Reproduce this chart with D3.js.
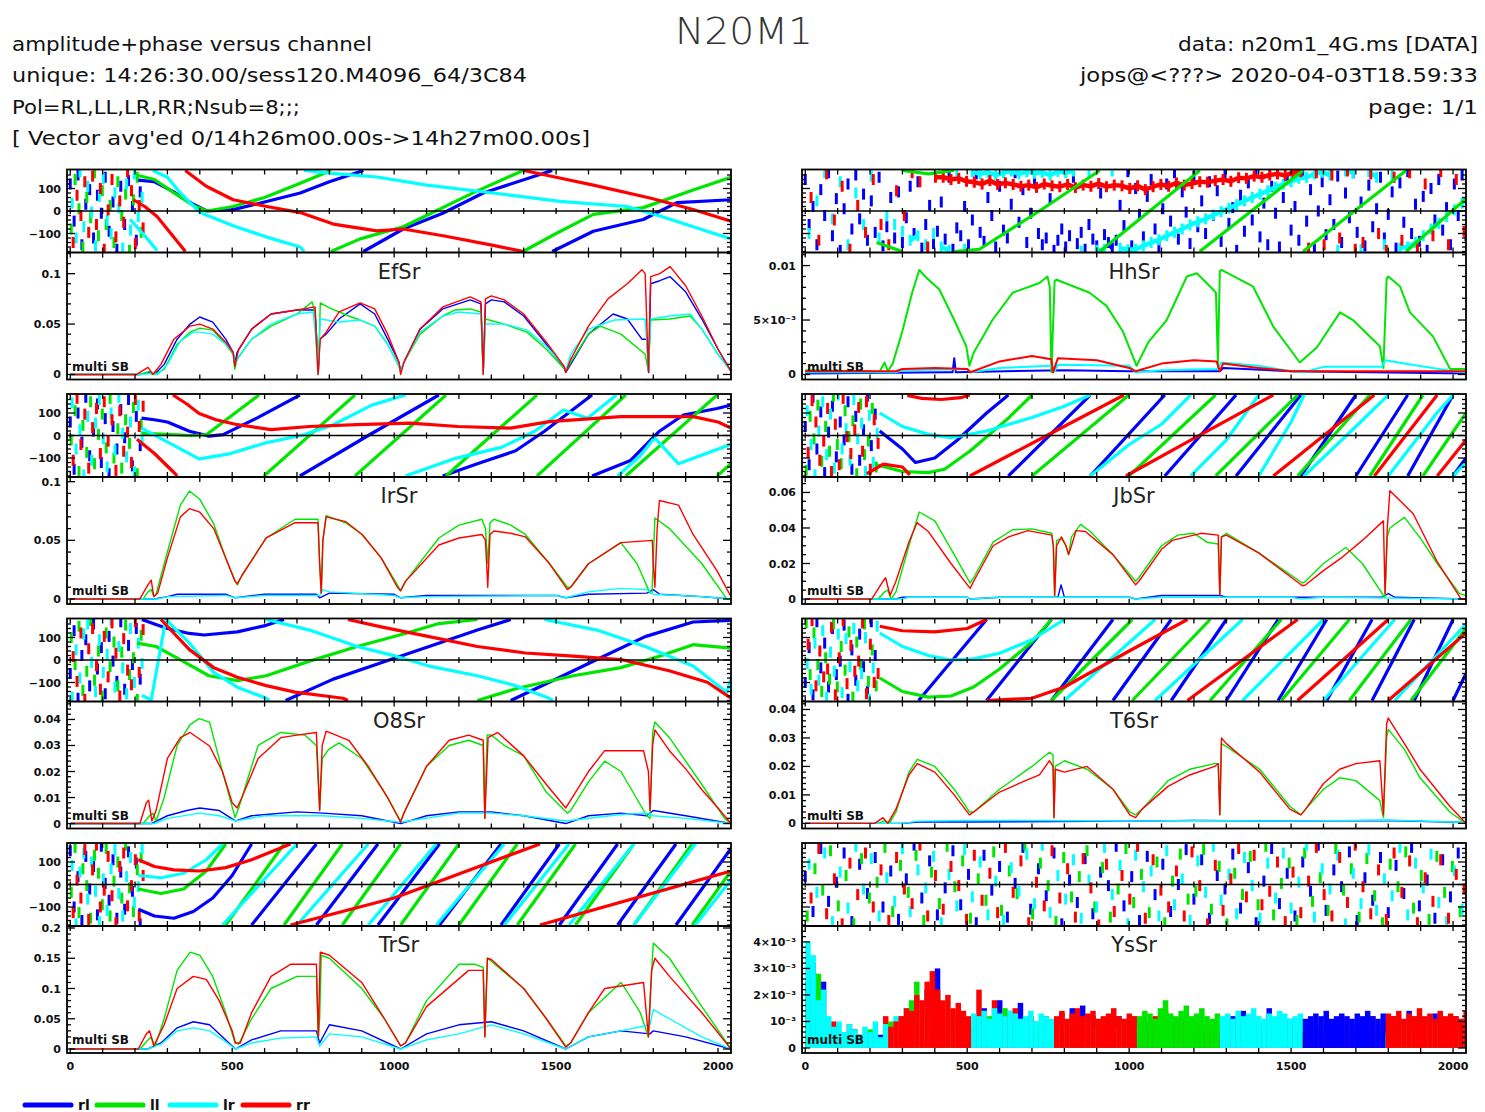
<!DOCTYPE html>
<html>
<head>
<meta charset="utf-8">
<title>N20M1</title>
<script src="https://cdn.jsdelivr.net/npm/d3@7"></script>
<style>
  body { margin: 0; background: #fff; }
  svg text { font-family: "DejaVu Sans", sans-serif; }
</style>
</head>
<body>
<script>
// ---------------- data ----------------
const polNames = ["rl", "ll", "lr", "rr"];
const polColors = ["#0000ff", "#00e600", "#00ffff", "#ff0000"];
const baselines = ["EfSr", "HhSr", "IrSr", "JbSr", "O8Sr", "T6Sr", "TrSr", "YsSr"];
const xTickLabels = [0, 500, 1000, 1500, 2000];
const chanDomain = [-10, 2040];

// amplitude axis ranges and labelled ticks per baseline
const ampDomains = [[-0.005, 0.121], [-0.00046, 0.0112], [-0.0043, 0.104], [-0.0028, 0.0687],
                    [-0.0019, 0.0469], [-0.0018, 0.0428], [-0.0066, 0.2033], [-0.00019, 0.0046]];
const ampMajors = [[0, 0.05, 0.1], [0, 0.005, 0.01], [0, 0.05, 0.1], [0, 0.02, 0.04, 0.06],
                   [0, 0.01, 0.02, 0.03, 0.04], [0, 0.01, 0.02, 0.03, 0.04],
                   [0, 0.05, 0.1, 0.15, 0.2], [0, 0.001, 0.002, 0.003, 0.004]];
const ampLabels = [["0", "0.05", "0.1"], ["0", "5×10⁻³", "0.01"], ["0", "0.05", "0.1"],
                   ["0", "0.02", "0.04", "0.06"], ["0", "0.01", "0.02", "0.03", "0.04"],
                   ["0", "0.01", "0.02", "0.03", "0.04"], ["0", "0.05", "0.1", "0.15", "0.2"],
                   ["0", "10⁻³", "2×10⁻³", "3×10⁻³", "4×10⁻³"]];
const ampMinor = [0.01, 0.001, 0.01, 0.005, 0.002, 0.002, 0.01, 0.0002];

// amplitude curves [channel, amp], order rl, ll, lr, rr
const ampEfSr = [
  [[0,0],[215,0],[240,0.002],[260,0],[290,0.01],[330,0.035],[370,0.05],[400,0.057],[440,0.052],[480,0.035],[503,0.022],[508,0.01],[515,0.022],[560,0.045],[620,0.06],[700,0.064],[756,0.064],[762,0.03],[766,0.002],[770,0.035],[790,0.04],[830,0.055],[895,0.07],[940,0.06],[980,0.035],[1015,0.012],[1020,0.003],[1030,0.012],[1080,0.045],[1150,0.065],[1235,0.074],[1268,0.07],[1275,0.002],[1282,0.07],[1300,0.074],[1340,0.072],[1400,0.058],[1470,0.03],[1525,0.006],[1530,0.002],[1545,0.01],[1600,0.04],[1676,0.06],[1720,0.055],[1765,0.035],[1780,0.035],[1786,0.002],[1792,0.09],[1820,0.093],[1852,0.097],[1900,0.082],[1950,0.055],[2000,0.025],[2040,0.003]],
  [[0,0],[215,0],[245,0.003],[260,0],[290,0.005],[330,0.03],[370,0.042],[400,0.046],[440,0.044],[480,0.03],[503,0.02],[508,0.005],[515,0.015],[560,0.035],[620,0.048],[700,0.06],[747,0.072],[756,0.06],[762,0.03],[766,0],[772,0.071],[800,0.066],[860,0.058],[895,0.054],[940,0.048],[980,0.03],[1015,0.008],[1020,0.003],[1030,0.012],[1080,0.04],[1150,0.058],[1188,0.064],[1235,0.065],[1268,0.062],[1275,0.003],[1282,0.055],[1340,0.05],[1410,0.042],[1470,0.025],[1525,0.006],[1530,0.003],[1545,0.012],[1600,0.04],[1636,0.048],[1700,0.04],[1775,0.02],[1785,0.003],[1792,0.054],[1850,0.055],[1914,0.058],[1950,0.045],[2000,0.02],[2040,0.003]],
  [[0,0],[215,0],[250,0.001],[270,0],[300,0.01],[340,0.033],[380,0.042],[400,0.042],[440,0.04],[480,0.03],[503,0.022],[510,0.01],[520,0.018],[560,0.035],[620,0.05],[700,0.06],[750,0.062],[760,0.03],[765,0],[772,0.055],[830,0.052],[895,0.054],[940,0.048],[980,0.03],[1015,0.008],[1020,0.003],[1030,0.012],[1080,0.042],[1150,0.058],[1200,0.062],[1268,0.06],[1275,0],[1282,0.05],[1340,0.05],[1410,0.044],[1470,0.028],[1525,0.008],[1530,0.004],[1545,0.02],[1600,0.045],[1680,0.054],[1775,0.055],[1785,0.005],[1792,0.055],[1850,0.058],[1914,0.06],[1950,0.045],[2000,0.02],[2040,0.003]],
  [[0,0],[205,0],[240,0.007],[255,0],[280,0.01],[320,0.035],[370,0.048],[400,0.05],[440,0.045],[480,0.032],[503,0.022],[508,0.008],[520,0.025],[560,0.045],[620,0.06],[700,0.064],[756,0.067],[760,0.03],[765,0],[772,0.035],[790,0.042],[830,0.062],[895,0.071],[940,0.065],[980,0.04],[1015,0.012],[1020,0],[1030,0.012],[1080,0.045],[1150,0.067],[1235,0.077],[1268,0.072],[1275,0],[1282,0.075],[1300,0.078],[1340,0.074],[1400,0.06],[1470,0.032],[1525,0.008],[1530,0.002],[1545,0.015],[1600,0.048],[1660,0.075],[1720,0.09],[1765,0.104],[1775,0.1],[1785,0.003],[1792,0.097],[1820,0.1],[1852,0.107],[1900,0.088],[1950,0.058],[2000,0.025],[2040,0.003]]
];
const ampHhSr = [
  [[0,0.0001],[440,0.0002],[455,0.0002],[460,0.0015],[465,0.0002],[800,0.0004],[1000,0.0003],[1280,0.0003],[1290,0.0006],[1500,0.0003],[2040,0.0001]],
  [[0,0.0004],[200,0.0003],[229,0.0002],[245,0.0011],[255,0.0003],[270,0.001],[300,0.004],[330,0.0075],[352,0.0096],[370,0.009],[414,0.0078],[460,0.005],[497,0.0026],[507,0.0008],[520,0.002],[578,0.005],[640,0.0075],[723,0.0084],[748,0.009],[755,0.008],[760,0.0002],[770,0.0086],[776,0.0087],[878,0.0075],[930,0.0063],[980,0.004],[1023,0.0008],[1060,0.003],[1116,0.005],[1178,0.009],[1209,0.0093],[1259,0.0078],[1268,0.0075],[1274,0.001],[1280,0.0095],[1285,0.0096],[1382,0.0081],[1445,0.0044],[1527,0.0011],[1580,0.0025],[1651,0.0057],[1691,0.005],[1774,0.0026],[1785,0.0006],[1795,0.0088],[1800,0.009],[1836,0.0081],[1867,0.0057],[1938,0.0035],[1991,0.0005],[2040,0.0005]],
  [[0,0.0002],[280,0.0002],[300,0.0004],[500,0.0005],[510,0.0002],[600,0.0006],[760,0.0008],[770,0.0003],[780,0.0009],[1000,0.0008],[1020,0.0002],[1100,0.0004],[1270,0.0005],[1285,0.0011],[1400,0.0008],[1500,0.0003],[1540,0.0002],[1600,0.0007],[1780,0.0007],[1790,0.0013],[1850,0.001],[2000,0.0003],[2040,0.0002]],
  [[0,0.0003],[280,0.0003],[300,0.0005],[400,0.0006],[500,0.0005],[510,0.0002],[600,0.0012],[700,0.0017],[760,0.0014],[765,0.0002],[780,0.0015],[900,0.0013],[1000,0.0006],[1020,0.0003],[1100,0.001],[1200,0.0013],[1270,0.0012],[1280,0.0003],[1290,0.001],[1400,0.0006],[1500,0.0003],[1800,0.0003],[2040,0.0003]]
];
const ampIrSr = [
  [[0,0],[260,0],[300,0.002],[330,0.004],[480,0.004],[510,0.001],[600,0.004],[760,0.004],[770,0.001],[800,0.005],[1000,0.004],[1020,0.001],[1100,0.003],[1500,0.003],[1530,0.001],[1600,0.004],[1780,0.005],[1800,0.008],[1820,0.004],[1950,0.002],[2040,0]],
  [[0,0],[225,0],[240,0.006],[250,0.008],[258,0.002],[265,0.004],[300,0.04],[340,0.08],[368,0.092],[400,0.085],[443,0.064],[480,0.035],[509,0.015],[516,0.012],[530,0.02],[605,0.052],[694,0.068],[765,0.068],[770,0.03],[775,0.005],[780,0.05],[790,0.071],[850,0.065],[901,0.055],[960,0.035],[1010,0.012],[1020,0.007],[1035,0.015],[1138,0.052],[1200,0.063],[1271,0.068],[1282,0.06],[1289,0.03],[1296,0.065],[1308,0.068],[1360,0.063],[1405,0.055],[1480,0.03],[1535,0.01],[1545,0.01],[1600,0.03],[1700,0.048],[1750,0.03],[1790,0.005],[1796,0.005],[1805,0.069],[1850,0.06],[1950,0.03],[2027,0],[2040,0]],
  [[0,0],[270,0],[300,0.002],[480,0.003],[510,0.001],[600,0.003],[770,0.003],[780,0.008],[800,0.006],[1000,0.003],[1020,0.001],[1100,0.002],[1500,0.003],[1530,0.001],[1600,0.006],[1700,0.009],[1780,0.008],[1800,0.004],[1950,0.002],[2040,0]],
  [[0,0],[215,0],[240,0.012],[250,0.016],[258,0.002],[270,0.005],[300,0.035],[340,0.07],[368,0.077],[400,0.074],[443,0.06],[480,0.035],[509,0.015],[516,0.013],[530,0.02],[605,0.052],[694,0.065],[765,0.065],[770,0.03],[775,0.005],[780,0.05],[790,0.07],[850,0.066],[901,0.055],[960,0.035],[1010,0.01],[1020,0.007],[1035,0.015],[1138,0.046],[1200,0.052],[1271,0.055],[1282,0.05],[1289,0.01],[1296,0.055],[1308,0.058],[1360,0.056],[1405,0.053],[1480,0.03],[1535,0.008],[1545,0.01],[1600,0.03],[1700,0.048],[1797,0.05],[1800,0.03],[1805,0.01],[1812,0.06],[1819,0.084],[1878,0.08],[1923,0.055],[1997,0.024],[2040,0.002]]
];
const ampJbSr = [
  [[0,0],[280,0],[300,0.001],[500,0.001],[510,0],[600,0.001],[780,0.001],[790,0.008],[800,0.001],[1000,0.001],[1020,0],[1100,0.002],[1280,0.002],[1300,0.001],[1780,0.001],[1800,0.003],[1820,0.001],[2040,0]],
  [[0,0],[225,0],[245,0.004],[255,0.005],[265,0],[280,0.004],[320,0.03],[352,0.049],[400,0.044],[460,0.025],[509,0.009],[520,0.012],[580,0.032],[640,0.039],[700,0.0395],[761,0.037],[766,0.03],[770,0.002],[776,0.033],[791,0.034],[805,0.03],[813,0.025],[822,0.035],[850,0.042],[880,0.038],[950,0.025],[1020,0.01],[1030,0.012],[1100,0.03],[1150,0.036],[1200,0.037],[1240,0.032],[1275,0.031],[1280,0.003],[1285,0.035],[1300,0.037],[1400,0.026],[1535,0.009],[1545,0.01],[1600,0.02],[1669,0.029],[1720,0.02],[1785,0.002],[1790,0.001],[1797,0.035],[1805,0.04],[1850,0.046],[1900,0.034],[1951,0.02],[2020,0.003],[2040,0.002]],
  [[0,0],[300,0],[320,0.001],[500,0.001],[510,0],[600,0.001],[1000,0.001],[1020,0],[1100,0.001],[1500,0.001],[1530,0],[1600,0.001],[2040,0]],
  [[0,0],[205,0],[240,0.01],[248,0.012],[262,0.002],[280,0.01],[320,0.032],[345,0.043],[380,0.038],[450,0.02],[509,0.006],[520,0.01],[580,0.03],[628,0.035],[687,0.0385],[761,0.036],[766,0.03],[770,0.002],[776,0.03],[791,0.035],[805,0.03],[813,0.025],[822,0.03],[836,0.0385],[865,0.038],[950,0.025],[1020,0.008],[1030,0.01],[1100,0.028],[1133,0.033],[1222,0.037],[1275,0.036],[1280,0.002],[1285,0.035],[1300,0.036],[1400,0.026],[1535,0.0075],[1545,0.008],[1600,0.016],[1654,0.023],[1720,0.033],[1785,0.044],[1790,0.003],[1797,0.04],[1805,0.061],[1877,0.048],[1951,0.021],[2025,0],[2040,0]]
];
const ampO8Sr = [
  [[0,0],[250,0],[300,0.003],[360,0.005],[400,0.006],[460,0.005],[510,0.001],[560,0.003],[700,0.0045],[780,0.004],[900,0.003],[1020,0],[1100,0.003],[1200,0.0045],[1300,0.0045],[1400,0.003],[1530,0],[1600,0.003],[1700,0.004],[1780,0.003],[1800,0.005],[1900,0.003],[2040,0]],
  [[0,0],[225,0],[245,0.003],[255,0.004],[265,0.001],[290,0.01],[330,0.03],[370,0.038],[398,0.0403],[430,0.039],[470,0.02],[509,0.0023],[520,0.006],[580,0.03],[650,0.035],[724,0.034],[760,0.03],[770,0.005],[778,0.025],[798,0.0285],[830,0.031],[900,0.025],[970,0.012],[1020,0.001],[1030,0.004],[1100,0.022],[1170,0.03],[1230,0.032],[1275,0.03],[1280,0.002],[1287,0.034],[1300,0.034],[1340,0.03],[1400,0.026],[1470,0.012],[1535,0.004],[1545,0.005],[1600,0.016],[1650,0.024],[1700,0.02],[1780,0.003],[1790,0.002],[1798,0.035],[1805,0.039],[1850,0.033],[1950,0.015],[2020,0.002],[2040,0]],
  [[0,0],[260,0],[300,0.002],[400,0.004],[460,0.003],[510,0.001],[600,0.003],[700,0.003],[780,0.003],[900,0.002],[1020,0.0005],[1200,0.004],[1300,0.004],[1400,0.003],[1530,0.001],[1700,0.0035],[1780,0.004],[1800,0.003],[1900,0.002],[2040,0]],
  [[0,0],[215,0],[235,0.008],[242,0.009],[252,0.001],[265,0.005],[300,0.025],[340,0.033],[370,0.035],[430,0.0298],[470,0.02],[500,0.008],[515,0.006],[530,0.01],[580,0.025],[650,0.033],[700,0.034],[760,0.035],[770,0.005],[778,0.03],[790,0.0355],[860,0.032],[920,0.022],[980,0.01],[1020,0.0005],[1030,0.004],[1100,0.022],[1170,0.032],[1230,0.034],[1275,0.032],[1280,0.002],[1290,0.033],[1320,0.035],[1400,0.026],[1470,0.015],[1530,0.006],[1545,0.009],[1600,0.02],[1650,0.028],[1770,0.028],[1785,0.02],[1790,0.005],[1798,0.03],[1805,0.036],[1850,0.028],[1900,0.021],[1950,0.013],[2000,0.006],[2040,0]]
];
const ampT6Sr = [
  [[0,0],[300,0],[350,0.0005],[500,0.0005],[1000,0.0008],[1200,0.001],[1500,0.0008],[1800,0.001],[2040,0.0003]],
  [[0,0],[225,0],[245,0.001],[260,0],[280,0.004],[320,0.018],[346,0.0225],[400,0.02],[460,0.012],[507,0.004],[520,0.004],[600,0.012],[700,0.02],[754,0.025],[765,0.024],[768,0.002],[772,0.02],[800,0.022],[870,0.019],[950,0.012],[1002,0.004],[1020,0.003],[1040,0.005],[1120,0.015],[1187,0.019],[1264,0.021],[1275,0.021],[1280,0.003],[1285,0.028],[1300,0.027],[1403,0.019],[1496,0.006],[1530,0.003],[1545,0.005],[1600,0.012],[1650,0.016],[1700,0.015],[1774,0.008],[1785,0.002],[1795,0.03],[1800,0.033],[1850,0.026],[1898,0.016],[1990,0.004],[2040,0]],
  [[0,0],[300,0],[350,0.0008],[500,0.001],[700,0.001],[1000,0.0008],[1200,0.001],[1500,0.0008],[1800,0.0012],[2040,0.0003]],
  [[0,0],[215,0],[240,0.002],[255,0],[280,0.005],[320,0.017],[346,0.021],[400,0.018],[460,0.01],[507,0.003],[520,0.004],[600,0.011],[680,0.015],[723,0.017],[754,0.022],[765,0.02],[768,0.002],[772,0.019],[800,0.018],[870,0.02],[950,0.012],[1002,0.003],[1020,0.002],[1040,0.005],[1120,0.013],[1187,0.017],[1264,0.02],[1275,0.021],[1280,0.003],[1285,0.03],[1300,0.028],[1403,0.018],[1496,0.005],[1530,0.003],[1545,0.005],[1600,0.014],[1650,0.019],[1700,0.021],[1774,0.022],[1785,0.003],[1795,0.035],[1800,0.037],[1850,0.028],[1898,0.019],[1990,0.006],[2040,0]]
];
const ampTrSr = [
  [[0,0],[240,0],[280,0.01],[330,0.035],[380,0.045],[430,0.04],[480,0.015],[510,0],[560,0.015],[650,0.03],[760,0.03],[770,0.01],[800,0.04],[900,0.03],[1020,0],[1100,0.025],[1200,0.04],[1300,0.045],[1400,0.03],[1530,0],[1600,0.02],[1700,0.03],[1790,0.025],[1800,0.03],[1900,0.02],[2040,0]],
  [[0,0],[215,0],[240,0.015],[250,0.02],[262,0.005],[290,0.05],[330,0.13],[370,0.16],[400,0.155],[440,0.12],[480,0.06],[509,0.01],[520,0.008],[560,0.05],[620,0.1],[700,0.12],[760,0.12],[766,0.02],[770,0.05],[775,0.155],[800,0.15],[900,0.1],[970,0.05],[1020,0.005],[1035,0.01],[1100,0.08],[1200,0.14],[1250,0.14],[1275,0.135],[1280,0.02],[1288,0.15],[1300,0.145],[1400,0.1],[1470,0.05],[1530,0.005],[1545,0.01],[1600,0.06],[1700,0.11],[1713,0.1],[1760,0.06],[1785,0.02],[1792,0.1],[1800,0.175],[1850,0.15],[1950,0.07],[2040,0]],
  [[0,0],[240,0],[280,0.008],[330,0.03],[380,0.035],[430,0.03],[480,0.012],[510,0],[560,0.01],[650,0.018],[760,0.02],[770,0.005],[800,0.025],[900,0.02],[1020,0],[1100,0.015],[1200,0.025],[1300,0.04],[1400,0.025],[1530,0],[1600,0.02],[1700,0.03],[1790,0.04],[1800,0.065],[1850,0.05],[1950,0.02],[2040,0]],
  [[0,0],[210,0],[235,0.025],[245,0.03],[258,0.005],[290,0.04],[330,0.1],[380,0.12],[420,0.115],[460,0.08],[500,0.03],[510,0.01],[525,0.01],[560,0.06],[620,0.12],[680,0.14],[760,0.14],[766,0.02],[772,0.16],[800,0.155],[900,0.11],[970,0.05],[1020,0.005],[1035,0.01],[1100,0.07],[1230,0.13],[1275,0.13],[1280,0.02],[1288,0.15],[1300,0.148],[1400,0.1],[1470,0.05],[1530,0.003],[1545,0.01],[1600,0.06],[1650,0.1],[1770,0.11],[1785,0.02],[1795,0.13],[1805,0.15],[1850,0.12],[1950,0.06],[2040,0]]
];
// YsSr amplitude, units of 1e-4, one value every 16 channels
const ysAmpStep = 16;
const ysTopPol = [2, 3, 2, 3, 1, 2, 0, 3];   // colour on top in each 256-channel sub-band
const ampYsSr = [
  [25,32,15,25,8,6,4,5,3,7,4,2,6,3,5,8, 4,6,3,8,5,10,4,22,6,30,8,5,12,4,6,3, 6,10,15,8,12,18,6,14,10,17,8,12,5,9,6,7, 8,13,6,15,9,16,5,12,8,6,10,7,12,5,9,6,
   5,8,6,10,4,9,12,6,8,5,10,7,9,5,6,8, 6,9,12,5,14,7,10,6,8,15,6,9,5,11,7,6, 11,12,13,12,14,11,12,13,12,11,13,12,14,12,11,13, 8,12,6,10,14,7,9,11,6,13,8,10,7,12,6,9],
  [20,15,28,10,5,8,3,6,4,2,5,3,7,2,4,6, 10,5,12,8,18,25,10,15,8,20,12,6,14,10,8,5, 5,8,6,12,4,7,15,6,9,5,8,4,10,6,3,5, 6,9,5,12,7,10,6,8,11,5,9,7,6,10,4,12,
   12,14,13,11,15,18,13,12,14,16,12,13,15,12,11,13, 7,5,9,6,11,5,8,10,6,7,5,9,6,8,7,5, 5,8,6,9,5,7,10,6,8,5,9,6,7,5,8,6, 6,9,11,5,8,12,6,10,7,9,5,11,8,6,10,7],
  [40,35,18,22,12,8,10,6,9,7,5,8,6,10,4,9, 6,12,9,15,10,8,14,6,12,5,16,9,7,12,8,10, 13,12,14,11,15,13,12,14,13,11,12,14,10,13,12,11, 5,7,6,9,5,8,10,6,7,5,9,6,8,5,7,6,
   8,6,10,7,12,5,9,8,6,11,7,9,6,10,8,7, 12,13,11,14,12,13,15,12,11,13,12,14,13,11,12,13, 7,5,9,6,8,10,5,7,9,6,8,5,10,6,7,5, 5,7,6,9,5,8,6,7,10,5,8,6,9,5,7,6],
  [5,8,12,6,3,10,2,4,9,3,5,2,6,4,3,12, 8,10,12,15,14,20,18,25,29,22,18,20,15,17,14,12, 8,22,10,6,18,7,12,5,15,9,6,10,4,8,12,6, 12,14,11,13,15,12,13,14,11,12,13,15,12,11,13,12,
   6,10,8,12,7,14,5,9,11,6,8,12,7,5,10,8, 5,8,6,10,7,12,5,9,6,8,10,5,7,9,6,8, 6,10,8,5,12,7,9,6,11,8,5,10,7,12,6,9, 13,12,14,11,13,12,15,12,13,11,14,12,13,12,11,14]
];

// phase curves [channel, degrees], wraps at +-180 written out
const phEfSr = [
  [[210,137],[260,130],[318,86],[380,30],[422,0],[503,6],[600,40],[710,80],[800,130],[905,180],[905,-180],[1028,-80],[1150,-10],[1275,80],[1488,180],[1488,-180],[1615,-90],[1769,-38],[1873,37],[2040,50]],
  [[210,158],[260,140],[318,83],[380,25],[422,0],[503,20],[600,60],[710,123],[805,180],[805,-180],[895,-124],[1028,-70],[1100,-20],[1250,85],[1398,180],[1398,-180],[1500,-100],[1615,-15],[1769,15],[1923,93],[2040,150]],
  [[185,-37],[230,-110],[268,-175],[255,180],[300,150],[340,80],[401,-7],[503,-66],[607,-116],[710,-160],[722,-180],[722,180],[800,168],[947,151],[1100,115],[1306,80],[1512,43],[1719,20],[1821,-22],[2040,-124]],
  [[195,50],[230,20],[268,-24],[350,-170],[355,-180],[355,180],[420,110],[503,50],[607,20],[710,-7],[812,-58],[947,-88],[1028,-80],[1151,-110],[1306,-153],[1400,-180],[1400,180],[1500,150],[1615,115],[1790,58],[1923,7],[2040,-45]]
];
const phHhSr = [
  [],
  [[220,-140],[300,-180],[300,180],[380,165],[460,180],[460,-180],[538,-170],[723,0],[909,180],[909,-180],[1218,180],[1218,-180],[1537,180],[1537,-180],[1855,180],[1855,-180],[2040,55]],
  [],
  []
];
const phIrSr = [
  [[220,77],[260,70],[300,60],[368,19],[428,-3],[472,4],[576,77],[709,180],[709,-180],[920,0],[1138,180],[1150,-180],[1257,-126],[1375,-68],[1464,19],[1611,180],[1611,-180],[1730,-111],[1819,19],[1893,91],[1997,120],[2040,135]],
  [[220,10],[300,5],[370,0],[420,3],[583,180],[598,-180],[879,180],[879,-180],[1160,180],[1160,-180],[1441,180],[1441,-180],[1715,180],[1715,-180],[1997,180],[1997,-180],[2040,-125]],
  [[220,33],[295,-25],[398,-104],[487,-83],[605,-32],[724,4],[812,48],[931,135],[1035,180],[1035,-180],[1183,-104],[1331,-53],[1434,19],[1523,113],[1597,77],[1686,180],[1690,-180],[1760,-90],[1804,-10],[1878,-126],[2040,-39]],
  [[206,-17],[260,-80],[324,-170],[330,-180],[317,180],[360,140],[398,98],[450,70],[516,48],[620,26],[739,40],[886,48],[1049,55],[1197,40],[1360,33],[1479,62],[1700,84],[1923,84],[2000,60],[2040,33]]
];
const phJbSr = [
  [[230,20],[300,-60],[340,-120],[400,-100],[470,-20],[560,100],[627,180],[627,-180],[880,180],[880,-180],[1110,180],[1110,-180],[1330,180],[1330,-180],[1530,180],[1530,-180],[1700,180],[1700,-180],[1860,180],[1860,-180],[2000,180],[2000,-180],[2040,-100]],
  [[220,-130],[300,-160],[380,-165],[430,-150],[508,-70],[627,77],[700,180],[700,-180],[999,180],[999,-180],[1267,180],[1267,-180],[1520,180],[1520,-180],[1743,180],[1743,-180],[1907,180],[1907,-180],[2040,100]],
  [[230,100],[300,40],[380,5],[450,-10],[560,20],[700,80],[800,130],[880,180],[880,-180],[1000,-40],[1100,50],[1190,180],[1190,-180],[1300,-20],[1400,180],[1400,-180],[1500,60],[1540,180],[1540,-180],[1700,40],[1800,180],[1800,-180],[1950,100],[2000,180],[2000,-180],[2040,-120]],
  [[190,-170],[241,-127],[300,-140],[323,-175],[315,178],[360,165],[420,160],[480,168],[508,180],[508,-180],[746,0],[984,180],[990,-180],[1207,-7],[1445,180],[1445,-180],[1757,180],[1757,-180],[1951,180],[1951,-180],[2040,-20]]
];
const phO8Sr = [
  [[221,180],[260,160],[300,140],[368,118],[413,111],[516,125],[605,154],[660,180],[665,-180],[812,-85],[960,-12],[1108,60],[1257,133],[1360,180],[1360,-180],[1479,-99],[1626,2],[1775,104],[1923,169],[2040,176]],
  [[206,75],[265,60],[339,2],[428,-70],[516,-92],[605,-70],[739,-5],[886,60],[1034,118],[1138,162],[1257,180],[1257,-180],[1375,-128],[1553,-70],[1700,-34],[1819,17],[1923,68],[2040,53]],
  [[221,-157],[250,-178],[295,180],[368,75],[443,-55],[516,-121],[605,-170],[615,-180],[605,180],[739,133],[886,60],[1005,17],[1108,-27],[1257,-70],[1375,-114],[1479,-170],[1490,-180],[1464,180],[1626,133],[1775,60],[1923,-27],[2027,-143],[2040,-85]],
  [[280,180],[368,46],[443,-34],[516,-77],[605,-114],[694,-143],[842,-170],[857,-180],[857,180],[960,147],[1108,104],[1257,60],[1405,31],[1553,17],[1700,2],[1849,-48],[1967,-99],[2040,-170]]
];
const phT6Sr = [
  [[350,-180],[560,180],[560,-180],[760,180],[760,-180],[950,180],[950,-180],[1130,180],[1130,-180],[1300,180],[1300,-180],[1460,180],[1460,-180],[1610,180],[1610,-180],[1750,180],[1750,-180],[1880,180],[1880,-180],[2000,180],[2000,-180],[2040,-60]],
  [[230,-80],[300,-140],[380,-165],[450,-160],[520,-120],[600,-40],[700,80],[760,180],[760,-180],[1010,180],[1010,-180],[1250,180],[1250,-180],[1470,180],[1470,-180],[1680,180],[1680,-180],[1870,180],[1870,-180],[2040,140]],
  [[230,120],[300,60],[380,20],[450,0],[520,5],[600,30],[700,90],[800,180],[800,-180],[1080,180],[1080,-180],[1350,180],[1350,-180],[1600,180],[1600,-180],[1820,180],[1820,-180],[2040,160]],
  [[230,150],[300,130],[400,125],[500,140],[560,180],[560,-180],[700,-170],[800,-120],[1000,40],[1180,180],[1180,-180],[1520,180],[1520,-180],[1800,180],[1800,-180],[2040,120]]
];
const phTrSr = [
  [[210,-110],[260,-140],[320,-150],[380,-120],[440,-60],[500,40],[560,180],[560,-180],[760,180],[760,-180],[950,180],[950,-180],[1140,180],[1140,-180],[1330,180],[1330,-180],[1510,180],[1510,-180],[1690,180],[1690,-180],[1870,180],[1870,-180],[2040,160]],
  [[210,-20],[280,-40],[350,-20],[420,60],[480,180],[480,-180],[660,180],[660,-180],[840,180],[840,-180],[1020,180],[1020,-180],[1200,180],[1200,-180],[1380,180],[1380,-180],[1560,180],[1560,-180],[1740,180],[1740,-180],[1920,180],[1920,-180],[2040,60]],
  [[210,40],[280,30],[350,50],[420,110],[470,180],[470,-180],[700,180],[700,-180],[920,180],[920,-180],[1130,180],[1130,-180],[1340,180],[1340,-180],[1540,180],[1540,-180],[1740,180],[1740,-180],[1930,180],[1930,-180],[2040,20]],
  [[210,110],[260,80],[320,65],[400,60],[480,75],[560,110],[680,180],[680,-180],[1000,-60],[1450,180],[1450,-180],[2040,60]]
];
const phYsSr = [[], [], [], []];

// scattered (noisy) phase values, evenly spread over the first noiseSpan channels
const noiseSpan = [228, 2064, 228, 228, 228, 228, 228, 2064];
const nzEfSr = [
  [120,-45,160,-150,30,95,-120,70,-10,150,-90,40,-170,110,-60,135,20,-130,85],
  [-80,140,10,-160,60,-30,170,-110,90,-60,25,-140,130,-20,75,-175,50,150,-95],
  [35,-120,175,-70,110,-5,-155,65,145,-40,-100,80,15,-165,120,-85,165,-25,60],
  [-140,70,-20,130,-95,155,-60,100,-170,5,140,-115,45,-50,175,90,-145,25,-75]
];
const nzHhSr = [
  [140,-60,20,-150,95,-20,170,-110,55,-175,10,120,-80,160,-35,75,-130,45,-95,150,
   -155,-70,60,-120,85,-140,-30,110,-100,130,-165,-60,25,-145,-90,40,-125,150,-170,-75,
   -110,20,-150,-40,165,-95,-135,60,-20,-160,110,-85,-120,30,170,-50,95,-140,-10,135,
   -100,-150,-120,55,-175,-130,-80,-160,-110,150,-145,-95,-170,-60,-125,-155,80,-105,-140,-165,
   -130,25,-65,175,-155,100,-15,-115,65,140,-80,-160,10,120,-45,170,-125,85,-5,-145,
   155,-70,45,-100,130,-20,90,-135,160,-55,15,-175,70,-90,125,-40,175,-115,35,-150,
   110,-10,-160,60,145,-85,20,-130,165,-45,95,-170,0,130,-105,50,-60,155,-140,80,
   -30,170,-95,40,-155,115,-70,10,150,-120,-15,85,-165,125,-50,175,-100,30,-135,65,
   -175,100,-40,140,-85,15,-150,120,-20,160,-110,55],
  [],
  [-100,45,170,-35,130,-150,80,-60,155,-120, -20,-60,-90,-130,-110,-150,-100, -160,-175,170,-170,175,
   165,172,160,170,178,165,175,168,172,160,176,170,178, -178,175,-175,-170,178,-165,-172,-170,
   -155,-140,-128,-110,-95,-80,-62,-48,-35,-18,-3,12,28,45,60,75,90,105,120,
   130,145,150,165,172,160,-175,178,170,-170,175,150,-150,160,-165, -160,-140,-110,-80,-55,-25,5,35,60],
  [60,-130,165,-40,110,-170,25,-95,140,-60, -150,90,-20,170,130,-160,150, 150,140,145,132,128,120,135,118,125,
   118,110,115,105,120,112,108,118,104,115,110,122,108,115,112, 100,112,95,108,118,110,125,115,122,130,
   128,135,140,132,148,145,155,150,160,165,158,170,
   175,-165,170,-150,160,-120,178,-170,-140,165,-100,-175,150,-130,170,-160,120,-110,175,-150,140,-90,-170]
];
const nzIrSr = [
  [60,-150,100,-30,170,-90,20,140,-120,75,-170,40,-60,115,-10,160,-135,85,-45],
  [-20,110,-160,45,-75,150,-125,5,95,-55,165,-100,30,-145,70,-35,125,-170,50],
  [145,-60,25,-175,85,-110,55,160,-15,-140,100,-65,170,10,-95,60,-160,135,-5],
  [-110,165,-40,95,-145,35,120,-80,150,-25,70,-155,110,-70,15,-120,160,40,130]
];
const nzJbSr = [
  [40,-130,170,-60,105,-165,15,130,-95,60,-20,150,-150,85,-110,25,175,-45,95],
  [-155,85,-15,135,-115,40,-70,175,-40,-125,110,-5,65,-170,140,-85,-25,120,-140],
  [110,-40,-175,20,150,-85,95,-145,180,-60,30,-110,160,-15,55,-160,90,-120,10],
  [-75,155,60,-110,-25,120,-160,50,-130,165,-5,-80,25,125,-70,150,-150,70,-35]
];
const nzO8Sr = [
  [-60,130,-170,20,90,-115,160,-40,55,-150,105,-5,-95,170,-130,65,-20,140,-85],
  [100,-20,150,-135,-50,175,-90,40,-160,120,-30,80,-115,35,155,-65,10,-175,110],
  [-165,45,-80,115,160,-10,-140,90,-55,25,175,-120,60,-35,-150,140,-100,75,-15],
  [15,-95,120,-175,50,140,-25,-130,105,-75,165,30,-160,95,-45,-110,170,-55,135]
];
const nzT6Sr = [
  [-100,55,-155,170,-35,75,-120,140,-65,-5,155,-175,45,-90,115,-30,-140,170,20],
  [165,-65,120,-20,-140,10,-85,160,-120,60,-45,125,-165,80,-20,160,-95,45,-115],
  [-15,-130,75,-90,130,-165,35,-50,115,-145,95,-30,140,-115,-60,100,-175,-35,150],
  [70,175,-115,40,-75,-40,145,-155,10,175,-105,65,-50,-5,165,-150,70,-100,-60]
];
const nzTrSr = [
  [150,-100,35,-160,125,-20,80,-135,170,5,-70,110,-150,55,-110,145,-30,95,-175],
  [-35,165,-125,70,-5,-150,130,50,-90,160,-140,15,100,-60,175,-15,-120,65,120],
  [85,-175,55,140,-65,100,-30,-165,25,-115,70,155,-40,-140,35,120,-80,-10,160],
  [-125,20,-60,155,-155,65,175,-100,-25,125,-50,-170,80,140,-95,-5,110,-140,40]
];
const nzYsSr = [
  [35,-120,160,-75,10,140,-165,90,-40,120,-100,60,-155,25,175,-60,105,-135,-15,150,
   -90,45,-170,130,-25,80,-145,5,165,-110,70,-50,140,-175,20,-80,115,-130,55,-5,
   170,-95,35,-160,125,-45,90,-120,0,155,-65,110,-150,40,-20,135,-105,75,-170,15,
   160,-85,50,-140,100,-30,175,-115,65,-10,145,-160,30,-70,120,-125,85,-40,165,-95,
   20,-150,110,-55,140,-20],
  [-140,70,-25,150,-95,40,-175,115,-60,10,165,-120,85,-35,130,-160,55,-85,170,-10,
   105,-150,25,-70,145,-115,60,-40,175,-130,95,-5,-165,120,-55,35,150,-100,75,-145,
   -20,160,-80,45,-125,100,-170,15,135,-65,-30,155,-110,80,-175,50,-45,125,-90,170,
   -135,5,95,-160,140,-75,30,-115,160,-25,70,-145,115,-50,-170,90,-10,145,-105,40,
   -155,125,-35,80,-120,160],
  [90,-35,140,-165,55,-105,170,-20,115,-140,30,-75,160,-120,65,-15,125,-170,45,-95,
   155,-55,100,-135,15,-160,75,-30,135,-85,175,-125,40,-65,110,-150,20,-100,165,-45,
   85,-175,130,-10,60,-140,150,-90,25,-160,105,-35,170,-70,45,-130,120,-5,-150,95,
   -60,140,-105,10,175,-145,70,-20,130,-175,50,-85,155,-115,25,-50,165,-135,95,-15,
   135,-80,-165,60,-110,150],
  [-60,160,-130,25,-175,95,-45,140,-100,65,-160,120,-20,-85,175,-140,40,-110,80,-5,
   -155,130,-70,50,-125,165,-35,105,-170,10,-95,150,-60,70,-145,115,-15,-180,90,-120,
   40,-65,170,-150,110,-25,-100,60,-140,145,-5,-175,85,-115,25,160,-55,130,-90,-30,
   100,-165,55,-125,15,165,-45,-140,120,-80,175,-10,-130,65,-155,140,-35,105,-170,30,
   -75,110,-150,45,-20,170]
];

const headLeft = ["amplitude+phase versus channel", "unique: 14:26:30.00/sess120.M4096_64/3C84",
                  "Pol=RL,LL,LR,RR;Nsub=8;;;", "[ Vector avg'ed 0/14h26m00.00s->14h27m00.00s]"];
const headRight = ["data: n20m1_4G.ms [DATA]", "jops@<???> 2020-04-03T18.59:33", "page: 1/1"];
const plotTitle = "N20M1";

const ampSets = [ampEfSr, ampHhSr, ampIrSr, ampJbSr, ampO8Sr, ampT6Sr, ampTrSr, null];
const phSets = [phEfSr, phHhSr, phIrSr, phJbSr, phO8Sr, phT6Sr, phTrSr, phYsSr];
const nzSets = [nzEfSr, nzHhSr, nzIrSr, nzJbSr, nzO8Sr, nzT6Sr, nzTrSr, nzYsSr];

// ---------------- layout ----------------
const width = 1485, height = 1112;
const colLeft = [67, 802], panelW = 664;
const rowTop = [169.5, 394, 618.5, 843];
const phaseH = 83, ampH = 127;

const svg = d3.select("body").append("svg")
    .attr("width", width)
    .attr("height", height);
svg.append("rect").attr("width", width).attr("height", height).attr("fill", "#fff");

// header
svg.append("text").attr("x", 744).attr("y", 44).attr("text-anchor", "middle")
    .attr("textLength", 138).attr("lengthAdjust", "spacingAndGlyphs")
    .style("font-size", "38px").style("font-weight", "200").style("fill", "#333").text(plotTitle);
const leftW = [360, 515, 288, 578];
headLeft.forEach((t, k) => {
    svg.append("text").attr("x", 12).attr("y", 51 + k * 31.3)
        .attr("textLength", leftW[k]).attr("lengthAdjust", "spacingAndGlyphs")
        .style("font-size", "19px").style("fill", "#111").text(t);
});
const rightW = [300, 398, 110];
headRight.forEach((t, k) => {
    svg.append("text").attr("x", 1478 - rightW[k]).attr("y", 51 + k * 31.3)
        .attr("textLength", rightW[k]).attr("lengthAdjust", "spacingAndGlyphs")
        .style("font-size", "19px").style("fill", "#111").text(t);
});

// a jump of ~360 degrees at (almost) the same channel is a wrap: start a new piece there
function splitWrap(pts) {
    const segs = [];
    let cur = [];
    pts.forEach((p, k) => {
        if (k > 0 && Math.abs(p[1] - pts[k - 1][1]) > 200 && Math.abs(p[0] - pts[k - 1][0]) < 40) {
            segs.push(cur); cur = [];
        }
        cur.push(p);
    });
    if (cur.length) segs.push(cur);
    return segs;
}

function yAxisTicks(g, y, majors, minorStep, x0, x1, labels, showLabels) {
    const dom = y.domain();
    const minors = d3.range(Math.ceil(dom[0] / minorStep) * minorStep, dom[1], minorStep)
        .filter(v => !majors.some(m => Math.abs(m - v) < minorStep / 10));
    const tk = [];
    majors.forEach(v => tk.push([v, 8]));
    minors.forEach(v => tk.push([v, 4]));
    tk.forEach(([v, len]) => {
        const yy = y(v);
        g.append("line").attr("x1", x0).attr("x2", x0 + len).attr("y1", yy).attr("y2", yy);
        g.append("line").attr("x1", x1).attr("x2", x1 - len).attr("y1", yy).attr("y2", yy);
    });
    if (showLabels) {
        majors.forEach((v, k) => {
            svg.append("text").attr("x", x0 - 6).attr("y", y(v) + 4)
                .attr("text-anchor", "end")
                .style("font-size", "11px").style("font-weight", "bold").style("fill", "#111")
                .text(labels[k]);
        });
    }
}

baselines.forEach((name, i) => {
    const col = i % 2, row = Math.floor(i / 2);
    const x0 = colLeft[col], x1 = x0 + panelW;
    const top = rowTop[row], mid = top + phaseH, bot = mid + ampH;

    const x = d3.scaleLinear().domain(chanDomain).range([x0, x1]);
    const yPh = d3.scaleLinear().domain([-180, 180]).range([mid - 1, top + 1]);
    const yAmp = d3.scaleLinear().domain(ampDomains[i]).range([bot, mid]);

    svg.append("clipPath").attr("id", "cp" + i).append("rect")
        .attr("x", x0).attr("y", top).attr("width", panelW).attr("height", phaseH);
    svg.append("clipPath").attr("id", "ca" + i).append("rect")
        .attr("x", x0).attr("y", mid).attr("width", panelW).attr("height", ampH);

    const gP = svg.append("g").attr("clip-path", `url(#cp${i})`);
    const gA = svg.append("g").attr("clip-path", `url(#ca${i})`);

    // phase: scattered points (each polarisation shifted by a quarter step), then curves
    const lineP = d3.line().x(d => x(d[0])).y(d => yPh(d[1]));
    polNames.forEach((p, k) => {
        const vals = nzSets[i][k];
        if (!vals.length) return;
        const step = noiseSpan[i] / vals.length;
        const pts = vals.map((v, j) => [j * step + k * step / 4, v]);
        for (let j = 1; j < pts.length; j++) {
            if (Math.abs(pts[j][1] - pts[j - 1][1]) < 30) {
                gP.append("path").attr("d", lineP([pts[j - 1], pts[j]]))
                    .attr("fill", "none").attr("stroke", polColors[k]).attr("stroke-width", 4.5);
            }
        }
        gP.selectAll(null).data(pts).join("rect")
            .attr("x", d => x(d[0]) - 1.5).attr("y", d => yPh(d[1]) - 5.5)
            .attr("width", 3).attr("height", 11)
            .attr("fill", polColors[k]);
    });
    polNames.forEach((p, k) => {
        splitWrap(phSets[i][k]).forEach(seg => {
            if (seg.length < 2) return;
            gP.append("path").attr("d", lineP(seg))
                .attr("fill", "none").attr("stroke", polColors[k])
                .attr("stroke-width", 3.2).attr("stroke-linejoin", "round");
        });
    });

    // amplitude
    if (ampSets[i]) {
        const lineA = d3.line().x(d => x(d[0])).y(d => yAmp(d[1]));
        polNames.forEach((p, k) => {
            gA.append("path").attr("d", lineA(ampSets[i][k]))
                .attr("fill", "none").attr("stroke", polColors[k])
                .attr("stroke-width", i === 1 ? 2 : 1.4).attr("stroke-linejoin", "round");
        });
    } else {
        const bw = x(ysAmpStep) - x(0);
        const nSub = ysTopPol.length, perSub = 2048 / nSub / ysAmpStep;
        d3.range(nSub).forEach(s => {
            const order = [0, 1, 2, 3].filter(k => k !== ysTopPol[s]).concat([ysTopPol[s]]);
            order.forEach(k => {
                const vals = ampYsSr[k].slice(s * perSub, (s + 1) * perSub);
                gA.selectAll(null).data(vals).join("rect")
                    .attr("x", (d, j) => x((s * perSub + j) * ysAmpStep))
                    .attr("y", d => yAmp(d * 1e-4))
                    .attr("width", bw + 0.3)
                    .attr("height", d => yAmp(0) - yAmp(d * 1e-4))
                    .attr("fill", polColors[k]);
            });
        });
    }

    // frames, zero line, ticks
    const gF = svg.append("g").attr("stroke", "#000").attr("fill", "none");
    gF.append("rect").attr("x", x0).attr("y", top).attr("width", panelW).attr("height", phaseH + ampH)
        .attr("stroke-width", 1.8);
    gF.append("line").attr("x1", x0).attr("x2", x1).attr("y1", mid).attr("y2", mid).attr("stroke-width", 1.8);
    gF.append("line").attr("x1", x0).attr("x2", x1).attr("y1", yPh(0)).attr("y2", yPh(0)).attr("stroke-width", 1.5);
    const gT = svg.append("g").attr("stroke", "#000").attr("stroke-width", 1.3);
    d3.range(0, 2001, 100).forEach(c => {
        const xx = x(c);
        [[top, 5], [mid, -5], [mid, 5], [bot, -5]].forEach(([yy, len]) => {
            gT.append("line").attr("x1", xx).attr("x2", xx).attr("y1", yy).attr("y2", yy + len);
        });
        gT.append("line").attr("x1", xx).attr("x2", xx).attr("y1", yPh(0) - 3).attr("y2", yPh(0) + 3);
    });
    yAxisTicks(gT, yPh, [-100, 0, 100], 20, x0, x1, ["−100", "0", "100"], col === 0);
    yAxisTicks(gT, yAmp, ampMajors[i], ampMinor[i], x0, x1, ampLabels[i], true);

    // labels inside the amplitude panel
    svg.append("text").attr("x", (x0 + x1) / 2).attr("y", mid + 26)
        .attr("text-anchor", "middle").style("font-size", "21px").style("fill", "#222").text(name);
    svg.append("text").attr("x", x0 + 5).attr("y", bot - 9)
        .style("font-size", "12px").style("font-weight", "bold").style("fill", "#111").text("multi SB");

    if (row === 3) {
        xTickLabels.forEach(c => {
            svg.append("text").attr("x", x(c)).attr("y", bot + 17).attr("text-anchor", "middle")
                .style("font-size", "11px").style("font-weight", "bold").style("fill", "#111").text(c);
        });
    }
});

// legend
const legX = [25, 97, 170, 243];
polNames.forEach((p, k) => {
    svg.append("line").attr("x1", legX[k]).attr("x2", legX[k] + 46)
        .attr("y1", 1105).attr("y2", 1105)
        .attr("stroke", polColors[k]).attr("stroke-width", 5).attr("stroke-linecap", "round");
    svg.append("text").attr("x", legX[k] + 53).attr("y", 1110)
        .style("font-size", "14px").style("font-weight", "bold").style("fill", "#111").text(p);
});
</script>
</body>
</html>
